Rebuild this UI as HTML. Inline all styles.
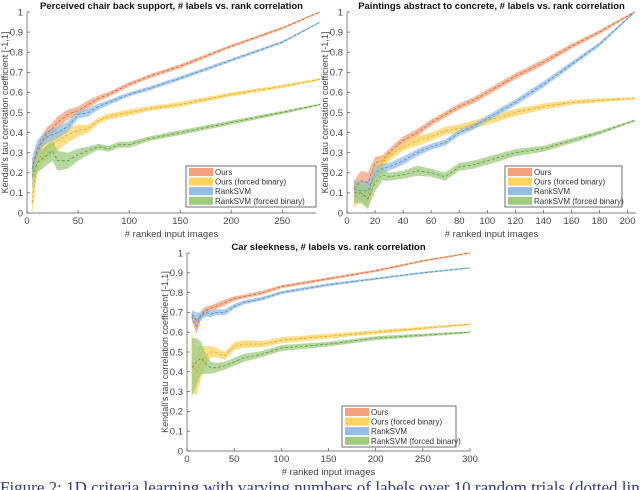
<!DOCTYPE html>
<html><head><meta charset="utf-8"><style>
html,body{margin:0;padding:0;background:#fff;width:640px;height:490px;overflow:hidden;position:relative}
svg{display:block}
text{font-family:"Liberation Sans",sans-serif}
.cap{position:absolute;left:0;top:478px;width:700px;font-family:"Liberation Serif",serif;font-size:17px;line-height:20px;color:#2a3a8c;white-space:nowrap}
</style></head><body>
<svg id="fig" width="640" height="490" viewBox="0 0 640 490"></svg>
<div class="cap">Figure 2: 1D criteria learning with varying numbers of labels over 10 random trials (dotted line</div>
<script>
// ---- Chart 1: chair back support ----
const c1X = [5,10,15,20,25,30,40,50,60,70,80,90,100,120,150,200,250,287];
const c1Ours = [0.22,0.30,0.36,0.40,0.42,0.45,0.49,0.51,0.54,0.57,0.59,0.615,0.64,0.68,0.73,0.83,0.92,1.0];
const c1OursFB = [0.05,0.25,0.30,0.32,0.34,0.36,0.39,0.41,0.42,0.46,0.48,0.49,0.50,0.52,0.54,0.59,0.63,0.665];
const c1Rank = [0.22,0.32,0.36,0.38,0.39,0.40,0.43,0.49,0.50,0.53,0.55,0.57,0.59,0.62,0.67,0.76,0.85,0.95];
const c1RankFB = [0.18,0.25,0.27,0.29,0.31,0.26,0.26,0.29,0.31,0.33,0.32,0.34,0.34,0.37,0.40,0.45,0.50,0.54];
const c1Spread = [0.05,0.04,0.03,0.03,0.03,0.03,0.025,0.02,0.02,0.015,0.012,0.012,0.01,0.01,0.01,0.008,0.006,0.004];
const c1SpreadFB = [0.06,0.05,0.05,0.05,0.05,0.05,0.04,0.03,0.02,0.015,0.015,0.015,0.015,0.012,0.012,0.01,0.008,0.005];
const c1XTicks = [0,50,100,150,200,250];
// ---- Chart 2: paintings ----
const c2X = [5,10,15,20,25,30,40,50,60,70,80,90,100,120,140,160,180,205];
const c2Ours = [0.12,0.16,0.15,0.25,0.26,0.30,0.36,0.40,0.45,0.49,0.53,0.56,0.60,0.68,0.75,0.83,0.90,1.0];
const c2OursFB = [0.08,0.10,0.08,0.20,0.25,0.28,0.33,0.36,0.38,0.41,0.42,0.44,0.46,0.50,0.53,0.55,0.56,0.57];
const c2Rank = [0.12,0.11,0.11,0.20,0.22,0.23,0.26,0.30,0.33,0.35,0.40,0.43,0.47,0.55,0.64,0.74,0.84,1.0];
const c2RankFB = [0.10,0.10,0.07,0.15,0.19,0.18,0.19,0.21,0.20,0.18,0.23,0.24,0.26,0.30,0.32,0.36,0.40,0.46];
const c2Spread = [0.04,0.05,0.05,0.03,0.025,0.02,0.02,0.018,0.015,0.015,0.015,0.015,0.015,0.015,0.015,0.012,0.01,0.005];
const c2SpreadFB = [0.05,0.05,0.05,0.04,0.03,0.02,0.02,0.025,0.02,0.02,0.02,0.02,0.02,0.018,0.015,0.012,0.01,0.005];
const c2XTicks = [0,20,40,60,80,100,120,140,160,180,200];
// ---- Chart 3: car sleekness ----
const c3X = [5,10,15,20,25,30,40,50,60,70,80,100,150,200,250,300];
const c3Ours = [0.68,0.63,0.69,0.71,0.72,0.73,0.75,0.77,0.78,0.79,0.80,0.83,0.87,0.91,0.96,1.0];
const c3OursFB = [0.45,0.40,0.45,0.48,0.50,0.50,0.48,0.53,0.54,0.54,0.54,0.56,0.58,0.60,0.62,0.64];
const c3Rank = [0.69,0.66,0.68,0.70,0.69,0.70,0.70,0.73,0.75,0.76,0.77,0.80,0.84,0.87,0.90,0.925];
const c3RankFB = [0.42,0.45,0.47,0.44,0.42,0.42,0.43,0.45,0.47,0.48,0.49,0.52,0.54,0.57,0.585,0.60];
const c3Spread = [0.02,0.04,0.02,0.02,0.015,0.015,0.015,0.012,0.01,0.01,0.01,0.008,0.007,0.006,0.005,0.004];
const c3SpreadFB = [0.15,0.12,0.08,0.05,0.03,0.025,0.02,0.02,0.02,0.018,0.015,0.015,0.012,0.01,0.008,0.005];
const c3XTicks = [0,50,100,150,200,250,300];
const yTicks = [0,0.1,0.2,0.3,0.4,0.5,0.6,0.7,0.8,0.9,1];
const legendLabels = ["Ours","Ours (forced binary)","RankSVM","RankSVM (forced binary)"];

const NS = "http://www.w3.org/2000/svg";
const svg = document.getElementById("fig");
const colors = [
  {band:"#f2a27c",line:"#d9682e"},
  {band:"#fdd35e",line:"#e0a81a"},
  {band:"#93bde4",line:"#4a8fc9"},
  {band:"#9ecb7f",line:"#5c9a3a"}];
function mk(tag, attrs, parent){
  const e = document.createElementNS(NS, tag);
  for (const k in attrs) e.setAttribute(k, attrs[k]);
  (parent||svg).appendChild(e);
  return e;
}
function chart(cfg){
  const g = mk("g", {});
  
  
  const sx = v => cfg.x0 + (v - 0) / cfg.xmax * (cfg.x1 - cfg.x0);
  const sy = v => cfg.y0 - v * (cfg.y0 - cfg.y1);
  const series = [cfg.ours, cfg.oursFB, cfg.rank, cfg.rankFB];
  const spreads = [cfg.sp, cfg.spFB, cfg.sp, cfg.spFB];
  const snames = ["ours","ours-forced-binary","ranksvm","ranksvm-forced-binary"];
  series.forEach((s, i) => {
    let up = cfg.xs.map((x, j) => sx(x).toFixed(1) + "," + sy(s[j] + spreads[i][j]).toFixed(1));
    let dn = cfg.xs.map((x, j) => sx(x).toFixed(1) + "," + sy(s[j] - spreads[i][j]).toFixed(1)).reverse();
    const band = mk("polygon", {points: up.concat(dn).join(" "), fill: colors[i].band, "fill-opacity": 0.75}, g);
    
    
  });
  series.forEach((s, i) => {
    const ln = mk("polyline", {points: cfg.xs.map((x, j) => sx(x).toFixed(1) + "," + sy(s[j]).toFixed(1)).join(" "),
      fill: "none", stroke: colors[i].line, "stroke-width": 0.8, "stroke-dasharray": "3,2"}, g);
    
    
  });
  const ax = mk("path", {d: `M${cfg.x0},${cfg.y1} V${cfg.y0} H${cfg.x1}`, stroke: "#555", "stroke-width": 0.7, fill: "none"}, g);
  
  
  yTicks.forEach(t => {
    const y = sy(t);
    mk("line", {x1: cfg.x0, x2: cfg.x0 + 3, y1: y, y2: y, stroke: "#555", "stroke-width": 0.7}, g);
    const tx = mk("text", {x: cfg.x0 - 4, y: y + 3.3, "font-size": 9.5, fill: "#444", "text-anchor": "end"}, g);
    tx.textContent = String(t);
    
    
  });
  cfg.xticks.forEach(t => {
    const x = sx(t);
    mk("line", {x1: x, x2: x, y1: cfg.y0, y2: cfg.y0 - 3, stroke: "#555", "stroke-width": 0.7}, g);
    const tx = mk("text", {x: x, y: cfg.y0 + 11, "font-size": 9.5, fill: "#444", "text-anchor": "middle"}, g);
    tx.textContent = String(t);
    
    
  });
  const title = mk("text", {x: (cfg.x0 + cfg.x1) / 2, y: cfg.y1 - 3, "font-size": 9.5, "font-weight": "bold", fill: "#111", "text-anchor": "middle"}, g);
  title.textContent = cfg.title;
  
  
  const xl = mk("text", {x: (cfg.x0 + cfg.x1) / 2, y: cfg.y0 + 24, "font-size": 9.5, fill: "#444", "text-anchor": "middle"}, g);
  xl.textContent = "# ranked input images";
  
  
  const cy = (cfg.y0 + cfg.y1) / 2, lx = cfg.x0 - 19;
  const yl = mk("text", {x: lx, y: cy, "font-size": 9, fill: "#444", "text-anchor": "middle", transform: `rotate(-90 ${lx} ${cy})`}, g);
  yl.textContent = "Kendall's tau correlation coefficient [-1,1]";
  
  
  const L = cfg.leg;
  const lg = mk("g", {}, g);
  
  
  mk("rect", {x: L[0], y: L[1], width: L[2], height: 41, fill: "#fff", stroke: "#333", "stroke-width": 0.7}, lg);
  legendLabels.forEach((lab, i) => {
    const yy = L[1] + 2 + i * 9.6;
    mk("rect", {x: L[0] + 3, y: yy, width: 24, height: 8, fill: colors[i].band}, lg);
    const t = mk("text", {x: L[0] + 29, y: yy + 7, "font-size": 8, fill: "#333"}, lg);
    t.textContent = lab;
    
    
  });
}
chart({name:"chair-chart", title:"Perceived chair back support, # labels vs. rank correlation",
  x0:27, x1:316, xmax:283, y0:213, y1:12, xs:c1X, ours:c1Ours, oursFB:c1OursFB, rank:c1Rank, rankFB:c1RankFB,
  sp:c1Spread, spFB:c1SpreadFB, xticks:c1XTicks, leg:[186,166,130]});
chart({name:"paintings-chart", title:"Paintings abstract to concrete, # labels vs. rank correlation",
  x0:347, x1:636, xmax:206, y0:213, y1:12, xs:c2X, ours:c2Ours, oursFB:c2OursFB, rank:c2Rank, rankFB:c2RankFB,
  sp:c2Spread, spFB:c2SpreadFB, xticks:c2XTicks, leg:[505,166,117]});
chart({name:"car-chart", title:"Car sleekness, # labels vs. rank correlation",
  x0:187, x1:470, xmax:300, y0:451, y1:253, xs:c3X, ours:c3Ours, oursFB:c3OursFB, rank:c3Rank, rankFB:c3RankFB,
  sp:c3Spread, spFB:c3SpreadFB, xticks:c3XTicks, leg:[342,406,114]});
</script>
</body></html>
